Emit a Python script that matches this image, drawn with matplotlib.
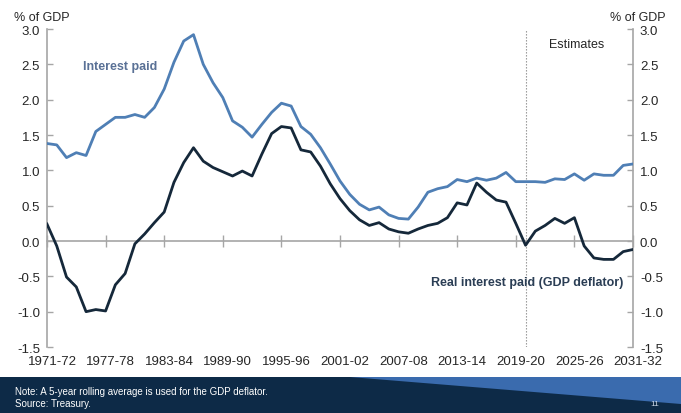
import matplotlib
matplotlib.use("Agg")
import matplotlib.pyplot as plt
from matplotlib.patches import Rectangle, Polygon
from matplotlib.transforms import ScaledTranslation

# ---- data: interest paid as % of GDP, 1971-72 to 2031-32 ----
first_year = 1971
fiscal_years = [f"{y}-{(y + 1) % 100:02d}" for y in range(first_year, 2032)]

interest_paid = [
    1.38, 1.36, 1.18, 1.25, 1.21, 1.55, 1.65, 1.75, 1.75, 1.79,
    1.75, 1.89, 2.15, 2.53, 2.83, 2.92, 2.50, 2.24, 2.03, 1.70,
    1.61, 1.47, 1.65, 1.82, 1.95, 1.91, 1.62, 1.51, 1.32, 1.09,
    0.85, 0.66, 0.52, 0.44, 0.48, 0.37, 0.32, 0.31, 0.48, 0.69,
    0.74, 0.77, 0.87, 0.84, 0.89, 0.86, 0.89, 0.97, 0.84, 0.84,
    0.84, 0.83, 0.88, 0.87, 0.95, 0.86, 0.95, 0.93, 0.93, 1.07,
    1.09,
]
real_interest_paid = [
    0.24, -0.07, -0.51, -0.65, -1.00, -0.97, -0.99, -0.62, -0.46, -0.04,
    0.10, 0.26, 0.41, 0.83, 1.11, 1.32, 1.13, 1.04, 0.98, 0.92,
    0.99, 0.92, 1.23, 1.52, 1.62, 1.60, 1.29, 1.26, 1.06, 0.81,
    0.60, 0.43, 0.30, 0.22, 0.26, 0.17, 0.13, 0.11, 0.17, 0.22,
    0.25, 0.33, 0.54, 0.51, 0.82, 0.69, 0.58, 0.55, 0.25, -0.06,
    0.14, 0.22, 0.32, 0.25, 0.33, -0.07, -0.24, -0.26, -0.26, -0.15,
    -0.12,
]
tick_labels = ["1971-72", "1977-78", "1983-84", "1989-90", "1995-96", "2001-02",
               "2007-08", "2013-14", "2019-20", "2025-26", "2031-32"]
y_ticks = [-1.5, -1.0, -0.5, 0.0, 0.5, 1.0, 1.5, 2.0, 2.5, 3.0]
estimates_start = "2020-21"

# ---- styling ----
plt.rcParams["font.family"] = ["Liberation Sans", "DejaVu Sans"]
GREY = "#A6A6A6"
BLUE = "#4F7FB5"
NAVY = "#15283A"
TXT = "#262626"

x = list(range(len(fiscal_years)))
tick_pos = [fiscal_years.index(t) for t in tick_labels]

fig = plt.figure(figsize=(6.81, 4.14), dpi=100)
ax = fig.add_axes([0.069, 0.1594, 0.8605, 0.7681])

ax.plot(x, interest_paid, color=BLUE, lw=2.0, solid_joinstyle="round", zorder=3)
ax.plot(x, real_interest_paid, color=NAVY, lw=2.0, solid_joinstyle="round", zorder=3)
ax.axvline(fiscal_years.index(estimates_start), color="#8C8C8C", lw=0.8,
           ls=(0, (1.2, 1.5)), zorder=2)

ax.set_xlim(0, len(fiscal_years) - 1)
ax.set_ylim(-1.5, 3.0)

# spines: zero line carries the x ticks, labels sit along the bottom
ax.spines["top"].set_visible(False)
ax.spines["bottom"].set_position(("data", 0))
for s in ["bottom", "left", "right"]:
    ax.spines[s].set_color(GREY)
    ax.spines[s].set_linewidth(1.2)

ax.set_xticks(tick_pos)
ax.tick_params(axis="x", direction="inout", length=8, width=1, color=GREY,
               labelbottom=False)
ax.set_yticks(y_ticks)
ax.set_yticklabels([f"{v:.1f}" for v in y_ticks])
ax.tick_params(axis="y", direction="in", length=4, width=1, color=GREY,
               left=True, right=True, labelleft=True, labelright=True,
               labelsize=9.5, labelcolor=TXT, pad=5)

sec = ax.secondary_xaxis("bottom")
sec.set_xticks(tick_pos, tick_labels)
sec.spines["bottom"].set_visible(False)
sec.tick_params(length=0, labelsize=9.5, labelcolor=TXT, pad=6)
shift = ScaledTranslation(5 / 100, 0, fig.dpi_scale_trans)
for lab in sec.get_xticklabels():
    lab.set_transform(lab.get_transform() + shift)

# axis unit labels
fig.text(0.061, 0.957, "% of GDP", ha="center", va="center", fontsize=9, color=TXT)
fig.text(0.937, 0.957, "% of GDP", ha="center", va="center", fontsize=9, color=TXT)

# series labels and estimates marker
ax.text(3.7, 2.47, "Interest paid", color="#5A7196", fontsize=9,
        fontweight="bold", va="center")
ax.text(39.3, -0.58, "Real interest paid (GDP deflator)", color="#2B3E55", fontsize=9,
        fontweight="bold", va="center")
ax.text(54.2, 2.79, "Estimates", color=TXT, fontsize=9, ha="center", va="center")

# footer band
fig.patches.append(Rectangle((0, 0), 1, 0.087, transform=fig.transFigure,
                             facecolor="#0D2A47", edgecolor="none", zorder=0))
fig.patches.append(Polygon([(350 / 681, 0.087), (1, 0.087), (1, 0.0217)],
                           closed=True, transform=fig.transFigure,
                           facecolor="#3A6BAE", edgecolor="none", zorder=1))
fig.text(0.022, 0.053, "Note: A 5-year rolling average is used for the GDP deflator.",
         color="white", fontsize=7, va="center")
fig.text(0.022, 0.024, "Source: Treasury.", color="white", fontsize=7, va="center")
fig.text(0.962, 0.022, "11", color="#C8D4E4", fontsize=6, va="center", ha="center")

fig.savefig("out.png", dpi=100)
